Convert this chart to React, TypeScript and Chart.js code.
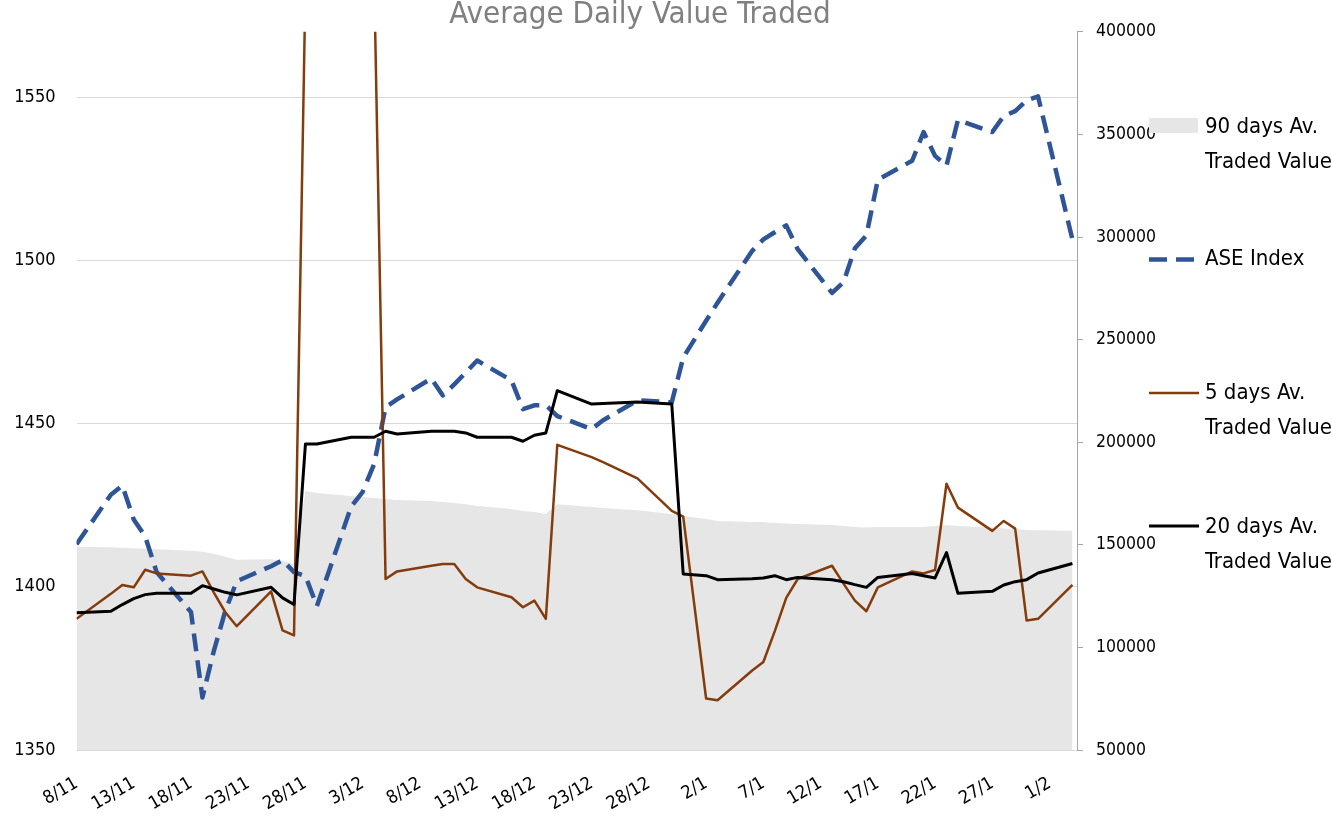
import React, { useEffect, useRef } from 'react';
import { Chart, registerables } from 'chart.js';

Chart.register(...registerables);

// ---------- data ----------
const START_DATE = '2013-11-08';

const tradingDates = [
  '2013-11-08',
  '2013-11-11', '2013-11-12', '2013-11-13', '2013-11-14', '2013-11-15',
  '2013-11-18', '2013-11-19', '2013-11-20', '2013-11-21', '2013-11-22',
  '2013-11-25', '2013-11-26', '2013-11-27', '2013-11-28', '2013-11-29',
  '2013-12-02', '2013-12-03', '2013-12-04', '2013-12-05', '2013-12-06',
  '2013-12-09', '2013-12-10', '2013-12-11', '2013-12-12', '2013-12-13',
  '2013-12-16', '2013-12-17', '2013-12-18', '2013-12-19', '2013-12-20',
  '2013-12-23', '2013-12-24', '2013-12-27', '2013-12-30', '2013-12-31',
  '2014-01-02', '2014-01-03',
  '2014-01-06', '2014-01-07', '2014-01-08', '2014-01-09', '2014-01-10',
  '2014-01-13', '2014-01-14', '2014-01-15', '2014-01-16', '2014-01-17',
  '2014-01-20', '2014-01-21', '2014-01-22', '2014-01-23', '2014-01-24',
  '2014-01-27', '2014-01-28', '2014-01-29', '2014-01-30', '2014-01-31',
  '2014-02-03',
];

const aseIndex = [
  1413.0,
  1428.2, 1431.0, 1420.6, 1415.4, 1404.5,
  1392.3, 1366.1, 1380.4, 1392.6, 1401.7,
  1406.3, 1408.1, 1404.5, 1403.3, 1394.1,
  1424.6, 1429.1, 1437.6, 1455.0, 1457.4,
  1463.8, 1458.6, 1462.0, 1465.6, 1469.3,
  1463.2, 1454.4, 1455.6, 1455.6, 1452.3,
  1448.3, 1451.0, 1457.1, 1456.5, 1470.2,
  1481.5, 1487.0,
  1502.8, 1506.4, 1508.6, 1510.7, 1503.4,
  1490.0, 1493.3, 1503.7, 1507.6, 1524.7,
  1530.5, 1539.3, 1532.0, 1529.0, 1543.0,
  1539.3, 1544.2, 1545.7, 1549.0, 1550.2,
  1506.4,
];

const avTraded5 = [
  113930,
  126090, 130430, 129270, 137860, 136060,
  134950, 137030, 126700, 117130, 110330,
  127330, 108250, 105820, 422000, 424000,
  425000, 426000, 427500, 133340, 137030,
  139800, 140620, 140620, 133340, 129270,
  124410, 119560, 122810, 113930, 198700,
  192700, 190300, 182370, 166500, 163730,
  75100, 74270,
  88590, 92860, 107900, 124120, 133340,
  139800, 131060, 122810, 117620, 129270,
  137030, 136060, 137710, 179750, 168100,
  156790, 161640, 157900, 113100, 113930,
  130430,
];

const avTraded20 = [
  116840,
  117620, 120870, 123780, 125720, 126350,
  126350, 130090, 128490, 126840, 125580,
  129270, 124120, 120870, 199160, 199160,
  202420, 202420, 202420, 205330, 204020,
  205330, 205330, 205330, 204500, 202420,
  202420, 200470, 203390, 204500, 225090,
  218590, 218900, 219560, 218590, 135770,
  134950, 133010,
  133490, 133830, 134950, 133010, 134120,
  133010, 132030, 130580, 129270, 134120,
  136060, 134950, 133830, 146250, 126350,
  127330, 130430, 132030, 133010, 136260,
  140920,
];

const avTraded90 = [
  149020,
  148780, 148530, 148290, 148050, 147800,
  147080, 146590, 145620, 144160, 142700,
  142950, 142220, 140600, 176200, 175230,
  173770, 173290, 172800, 172320, 171830,
  171350, 170860, 170380, 169750, 168920,
  167460, 166490, 166010, 165040, 169750,
  168440, 167950, 166840, 165040, 164070,
  162610, 161640,
  161160, 161160, 160670, 160330, 160190,
  159700, 159220, 158730, 158390, 158730,
  158730, 158730, 159220, 159700, 159220,
  158390, 158000, 157760, 157270, 157130,
  156790,
];

const xTickDays = [0, 5, 10, 15, 20, 25, 30, 35, 40, 45, 50, 55, 60, 65, 70, 75, 80, 85];
const leftTicks = [1350, 1400, 1450, 1500, 1550];
const rightTicks = [50000, 100000, 150000, 200000, 250000, 300000, 350000, 400000];

const TITLE = 'Average Daily Value Traded';
const legendLabels = {
  av90: ['90 days Av.', 'Traded Value'],
  ase: ['ASE Index'],
  av5: ['5 days Av.', 'Traded Value'],
  av20: ['20 days Av.', 'Traded Value'],
};

// ---------- helpers ----------
const DAY = 86400000;
const parseUTC = (s: string) => {
  const [y, m, d] = s.split('-').map(Number);
  return Date.UTC(y, m - 1, d);
};
const startMs = parseUTC(START_DATE);
const dayOffset = (s: string) => Math.round((parseUTC(s) - startMs) / DAY);
const fmtDay = (v: number) => {
  const d = new Date(startMs + v * DAY);
  return `${d.getUTCDate()}/${d.getUTCMonth() + 1}`;
};
const toPoints = (vals: number[]) => vals.map((y, i) => ({ x: dayOffset(tradingDates[i]), y }));

const FONT = "'Liberation Sans Narrow', 'DejaVu Sans Condensed', 'Noto Sans', sans-serif";

const COLORS = {
  blue: '#2F5597',
  orange: '#843C0C',
  black: '#000000',
  gray: '#E6E6E6',
  grid: '#D9D9D9',
  axis: '#A6A6A6',
  title: '#808080',
};

const decorPlugin = {
  id: 'decor',
  afterDraw(chart: any) {
    const ctx = chart.ctx;
    ctx.save();
    // title
    ctx.fillStyle = COLORS.title;
    ctx.font = `31px ${FONT}`;
    ctx.textAlign = 'center';
    ctx.textBaseline = 'alphabetic';
    ctx.fillText(TITLE, 640, 23);

    // legend
    const sx = 1149;
    const tx = 1205;
    const lh = 35;
    ctx.textAlign = 'left';
    ctx.textBaseline = 'middle';
    ctx.fillStyle = '#000';
    ctx.font = `22px ${FONT}`;
    const drawText = (lines: string[], y: number) => {
      ctx.fillStyle = '#000';
      lines.forEach((l, i) => ctx.fillText(l, tx, y + i * lh));
    };
    // 90 days
    ctx.fillStyle = COLORS.gray;
    ctx.fillRect(sx, 118, 49, 15);
    drawText(legendLabels.av90, 127);
    // ASE
    ctx.strokeStyle = COLORS.blue;
    ctx.lineWidth = 4.5;
    ctx.setLineDash([18, 9]);
    ctx.beginPath();
    ctx.moveTo(sx, 259.5);
    ctx.lineTo(sx + 46, 259.5);
    ctx.stroke();
    ctx.setLineDash([]);
    drawText(legendLabels.ase, 259);
    // 5 days
    ctx.strokeStyle = COLORS.orange;
    ctx.lineWidth = 2.5;
    ctx.beginPath();
    ctx.moveTo(sx, 393);
    ctx.lineTo(sx + 50, 393);
    ctx.stroke();
    drawText(legendLabels.av5, 393);
    // 20 days
    ctx.strokeStyle = COLORS.black;
    ctx.lineWidth = 3;
    ctx.beginPath();
    ctx.moveTo(sx, 526);
    ctx.lineTo(sx + 50, 526);
    ctx.stroke();
    drawText(legendLabels.av20, 527);
    ctx.restore();
  },
};

export default function App() {
  const ref = useRef<HTMLCanvasElement | null>(null);

  useEffect(() => {
    if (!ref.current) return;
    const chart = new Chart(ref.current, {
      type: 'line',
      data: {
        datasets: [
          {
            label: '20 days Av. Traded Value',
            data: toPoints(avTraded20),
            yAxisID: 'yR',
            borderColor: COLORS.black,
            borderWidth: 3,
            pointRadius: 0,
            fill: false,
            borderJoinStyle: 'round',
            order: 1,
          },
          {
            label: '5 days Av. Traded Value',
            data: toPoints(avTraded5),
            yAxisID: 'yR',
            borderColor: COLORS.orange,
            borderWidth: 2.5,
            pointRadius: 0,
            fill: false,
            borderJoinStyle: 'round',
            order: 2,
          },
          {
            label: 'ASE Index',
            data: toPoints(aseIndex),
            yAxisID: 'yL',
            borderColor: COLORS.blue,
            borderWidth: 4.5,
            borderDash: [18, 9],
            pointRadius: 0,
            fill: false,
            borderJoinStyle: 'round',
            order: 3,
          },
          {
            label: '90 days Av. Traded Value',
            data: toPoints(avTraded90),
            yAxisID: 'yR',
            borderColor: COLORS.gray,
            backgroundColor: COLORS.gray,
            borderWidth: 0,
            pointRadius: 0,
            fill: 'start',
            order: 4,
          },
        ],
      },
      options: {
        responsive: false,
        animation: false,
        devicePixelRatio: 1,
        layout: { padding: { top: 29, left: 0, right: 0, bottom: 0 } },
        plugins: {
          legend: { display: false },
          title: { display: false },
          tooltip: { enabled: false },
        },
        scales: {
          x: {
            type: 'linear',
            min: 0,
            max: 87.4,
            afterBuildTicks: (s: any) => {
              s.ticks = xTickDays.map((v) => ({ value: v }));
            },
            afterFit: (s: any) => {
              s.height = 67;
            },
            grid: { display: false },
            border: { display: false },
            ticks: {
              autoSkip: false,
              minRotation: 30,
              maxRotation: 30,
              padding: 15,
              color: '#000',
              font: { family: FONT, size: 18 },
              callback: (v: any) => fmtDay(Number(v)),
            },
          },
          yL: {
            type: 'linear',
            position: 'left',
            min: 1350,
            max: 1570,
            afterBuildTicks: (s: any) => {
              s.ticks = leftTicks.map((v) => ({ value: v }));
            },
            afterFit: (s: any) => {
              s.width = 76.5;
            },
            grid: { color: COLORS.grid, lineWidth: 1, drawTicks: false },
            border: { display: false },
            ticks: {
              padding: 21,
              color: '#000',
              font: { family: FONT, size: 18 },
              callback: (v: any) => String(v),
            },
          },
          yR: {
            type: 'linear',
            position: 'right',
            min: 50000,
            max: 400000,
            afterBuildTicks: (s: any) => {
              s.ticks = rightTicks.map((v) => ({ value: v }));
            },
            afterFit: (s: any) => {
              s.width = 255;
            },
            grid: {
              drawOnChartArea: false,
              drawTicks: true,
              tickLength: 6,
              color: COLORS.axis,
              lineWidth: 1,
            },
            border: { display: true, color: COLORS.axis, width: 1 },
            ticks: {
              padding: 13,
              color: '#000',
              font: { family: FONT, size: 17.5 },
              callback: (v: any) => String(v),
            },
          },
        },
      },
      plugins: [decorPlugin],
    } as any);
    return () => chart.destroy();
  }, []);

  return (
    <div style={{ position: 'absolute', left: 0, top: 0, width: 1332, height: 817, background: '#fff' }}>
      <canvas ref={ref} width={1332} height={817} style={{ display: 'block' }} />
    </div>
  );
}
